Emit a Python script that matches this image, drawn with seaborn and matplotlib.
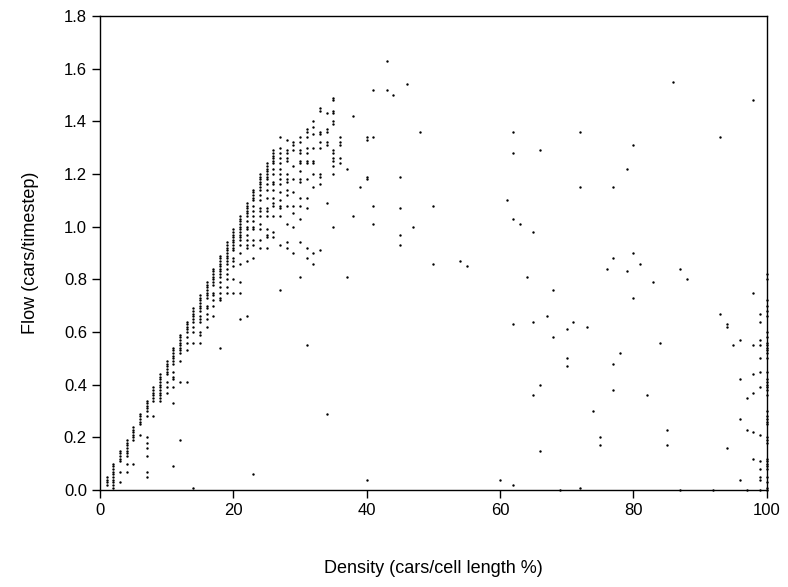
import pandas as pd
import matplotlib
matplotlib.use("Agg")
import matplotlib.pyplot as plt
import seaborn as sns

# free-flow branch: (density %, flows observed at that density)
rise_cols = [
    (1, [0.05, 0.04, 0.03, 0.02]),
    (2, [0.10, 0.09, 0.08, 0.07, 0.06, 0.05, 0.04, 0.03, 0.02, 0.01]),
    (3, [0.15, 0.14, 0.13, 0.12, 0.11, 0.07, 0.03]),
    (4, [0.19, 0.18, 0.17, 0.16, 0.15, 0.14, 0.13, 0.10, 0.07]),
    (5, [0.24, 0.23, 0.22, 0.21, 0.20, 0.19, 0.10]),
    (6, [0.29, 0.28, 0.27, 0.26, 0.25, 0.21]),
    (7, [0.34, 0.33, 0.32, 0.31, 0.30, 0.28, 0.20, 0.18, 0.16, 0.13, 0.07, 0.05]),
    (8, [0.39, 0.38, 0.37, 0.36, 0.35, 0.34, 0.28]),
    (9, [0.44, 0.43, 0.42, 0.41, 0.40, 0.39, 0.38, 0.37, 0.36, 0.35, 0.34]),
    (10, [0.49, 0.48, 0.47, 0.46, 0.45, 0.44, 0.41, 0.39, 0.37]),
    (11, [0.54, 0.53, 0.52, 0.51, 0.50, 0.49, 0.48, 0.45, 0.43, 0.42, 0.39, 0.33, 0.09]),
    (12, [0.59, 0.58, 0.57, 0.56, 0.55, 0.54, 0.53, 0.52, 0.49, 0.41, 0.19]),
    (13, [0.64, 0.63, 0.62, 0.61, 0.60, 0.58, 0.56, 0.53, 0.41]),
    (14, [0.69, 0.68, 0.67, 0.66, 0.65, 0.64, 0.62, 0.60, 0.56, 0.01]),
    (15, [0.74, 0.73, 0.72, 0.71, 0.70, 0.69, 0.68, 0.66, 0.65, 0.64, 0.60, 0.59, 0.56]),
    (16, [0.79, 0.78, 0.77, 0.76, 0.75, 0.74, 0.73, 0.70, 0.69, 0.67, 0.65, 0.62]),
    (17, [0.84, 0.83, 0.82, 0.81, 0.80, 0.79, 0.78, 0.75, 0.74, 0.72, 0.70, 0.66]),
    (18, [0.89, 0.88, 0.87, 0.86, 0.85, 0.84, 0.83, 0.82, 0.81, 0.79, 0.77, 0.75, 0.73, 0.72, 0.54]),
    (19, [0.94, 0.93, 0.92, 0.91, 0.90, 0.89, 0.88, 0.87, 0.86, 0.84, 0.82, 0.80, 0.77, 0.75]),
    (20, [0.99, 0.98, 0.97, 0.96, 0.95, 0.94, 0.93, 0.92, 0.91, 0.88, 0.87, 0.85, 0.80, 0.75]),
    (21, [1.04, 1.03, 1.02, 1.01, 1.00, 0.99, 0.98, 0.97, 0.96, 0.95, 0.93, 0.90, 0.86, 0.79, 0.75, 0.65]),
    (22, [1.09, 1.08, 1.07, 1.06, 1.05, 1.04, 1.02, 1.00, 0.99, 0.97, 0.95, 0.93, 0.92, 0.87, 0.66]),
    (23, [1.14, 1.13, 1.12, 1.11, 1.10, 1.08, 1.06, 1.04, 1.02, 1.00, 0.99, 0.95, 0.93, 0.88, 0.06]),
    (24, [1.20, 1.19, 1.18, 1.17, 1.16, 1.15, 1.14, 1.12, 1.10, 1.07, 1.06, 1.04, 1.01, 0.99, 0.95, 0.92]),
    (25, [1.24, 1.23, 1.22, 1.21, 1.20, 1.19, 1.18, 1.16, 1.14, 1.11, 1.07, 1.06, 1.04, 0.99, 0.97, 0.96, 0.92]),
    (26, [1.29, 1.28, 1.27, 1.26, 1.25, 1.24, 1.22, 1.20, 1.17, 1.16, 1.14, 1.11, 1.09, 1.08, 1.04, 0.98, 0.96]),
    (27, [1.34, 1.30, 1.28, 1.26, 1.24, 1.22, 1.20, 1.18, 1.16, 1.13, 1.10, 1.08, 1.07, 1.04, 0.93, 0.76]),
    (28, [1.33, 1.29, 1.28, 1.26, 1.25, 1.20, 1.18, 1.17, 1.14, 1.12, 1.08, 1.01, 0.94, 0.92]),
    (29, [1.32, 1.31, 1.29, 1.23, 1.18, 1.13, 1.08, 1.05, 1.00, 0.90]),
    (30, [1.34, 1.32, 1.29, 1.28, 1.25, 1.24, 1.21, 1.18, 1.17, 1.11, 1.08, 1.03, 0.94, 0.81]),
    (31, [1.37, 1.36, 1.34, 1.30, 1.28, 1.25, 1.24, 1.18, 1.11, 1.07, 0.92, 0.88, 0.55]),
    (32, [1.40, 1.38, 1.35, 1.30, 1.25, 1.24, 1.20, 1.15, 0.90, 0.86]),
    (33, [1.45, 1.44, 1.36, 1.35, 1.32, 1.30, 1.20, 1.19, 1.16, 0.91]),
    (34, [1.43, 1.37, 1.36, 1.32, 1.31, 1.09, 0.29]),
    (35, [1.49, 1.48, 1.44, 1.43, 1.40, 1.39, 1.29, 1.28, 1.26, 1.25, 1.23, 1.20, 1.00]),
    (36, [1.34, 1.32, 1.31, 1.26, 1.24]),
]

# congested region, scattered points
jam_cols = [
    (37, [1.22, 0.81]), (38, [1.42, 1.04]), (39, [1.15]),
    (40, [1.34, 1.33, 1.19, 1.18, 0.04]), (41, [1.52, 1.34, 1.08, 1.01]),
    (43, [1.63, 1.52]), (44, [1.50]), (45, [1.19, 1.07, 0.97, 0.93]),
    (46, [1.54]), (47, [1.00]), (48, [1.36]), (50, [1.08, 0.86]),
    (54, [0.87]), (55, [0.85]), (60, [0.04]), (61, [1.10]),
    (62, [1.36, 1.28, 1.03, 0.63, 0.02]), (63, [1.01]), (64, [0.81]),
    (65, [0.98, 0.64, 0.36]), (66, [1.29, 0.40, 0.15]), (67, [0.66]),
    (68, [0.76, 0.58]), (69, [0.00]), (70, [0.61, 0.50, 0.47]), (71, [0.64]),
    (72, [1.36, 1.15, 0.01]), (73, [0.62]), (74, [0.30]), (75, [0.20, 0.17]),
    (76, [0.84]), (77, [1.15, 0.88, 0.48, 0.38]), (78, [0.52]),
    (79, [1.22, 0.83]), (80, [1.31, 0.90, 0.73]), (81, [0.86]), (82, [0.36]),
    (83, [0.79]), (84, [0.56]), (85, [0.23, 0.17]), (86, [1.55]),
    (87, [0.84, 0.00]), (88, [0.80]), (92, [0.00]), (93, [1.34, 0.67]),
    (94, [0.63, 0.62, 0.16]), (95, [0.55]), (96, [0.57, 0.42, 0.27, 0.04]),
    (97, [0.35, 0.23, 0.00]),
    (98, [1.48, 0.75, 0.55, 0.44, 0.37, 0.22, 0.12]),
    (99, [0.67, 0.64, 0.57, 0.55, 0.50, 0.45, 0.39, 0.21, 0.11, 0.08, 0.05, 0.04, 0.00]),
]

# fully jammed road (density 100%)
full_flows = [0.82, 0.80, 0.72, 0.70, 0.68, 0.66, 0.60, 0.58, 0.56, 0.55, 0.54,
              0.53, 0.52, 0.50, 0.45, 0.42, 0.41, 0.40, 0.39, 0.38, 0.36, 0.30,
              0.28, 0.27, 0.26, 0.25, 0.20, 0.19, 0.18, 0.12, 0.11, 0.10, 0.09,
              0.08, 0.05, 0.03, 0.01, 0.00]

rows = []
for d, flows in rise_cols + jam_cols + [(100, full_flows)]:
    for f in flows:
        rows.append({'density': d, 'flow': f})
df = pd.DataFrame(rows)

sns.set_style("ticks")
plt.rcParams['font.family'] = ['Liberation Sans', 'DejaVu Sans']

fig = plt.figure(figsize=(7.88, 5.87), dpi=100)
ax = fig.add_axes([0.127, 0.165, 0.846, 0.808])
sns.scatterplot(data=df, x='density', y='flow', ax=ax, color='black',
                s=3, marker='o', linewidth=0, clip_on=False)

ax.set_xlim(0, 100)
ax.set_ylim(0, 1.8)
ax.set_xticks([0, 20, 40, 60, 80, 100])
ax.set_yticks([0.0, 0.2, 0.4, 0.6, 0.8, 1.0, 1.2, 1.4, 1.6, 1.8])
ax.set_yticklabels([f'{v:.1f}' for v in ax.get_yticks()])
ax.tick_params(direction='out', length=6, width=1, labelsize=12,
               colors='black', labelcolor='black')
for s in ax.spines.values():
    s.set_visible(True)
    s.set_linewidth(1)
    s.set_color('black')

ax.set_xlabel('Density (cars/cell length %)', fontsize=13, labelpad=30, color='black')
ax.set_ylabel('Flow (cars/timestep)', fontsize=13, labelpad=18, color='black')

fig.savefig('out.png', dpi=100)
